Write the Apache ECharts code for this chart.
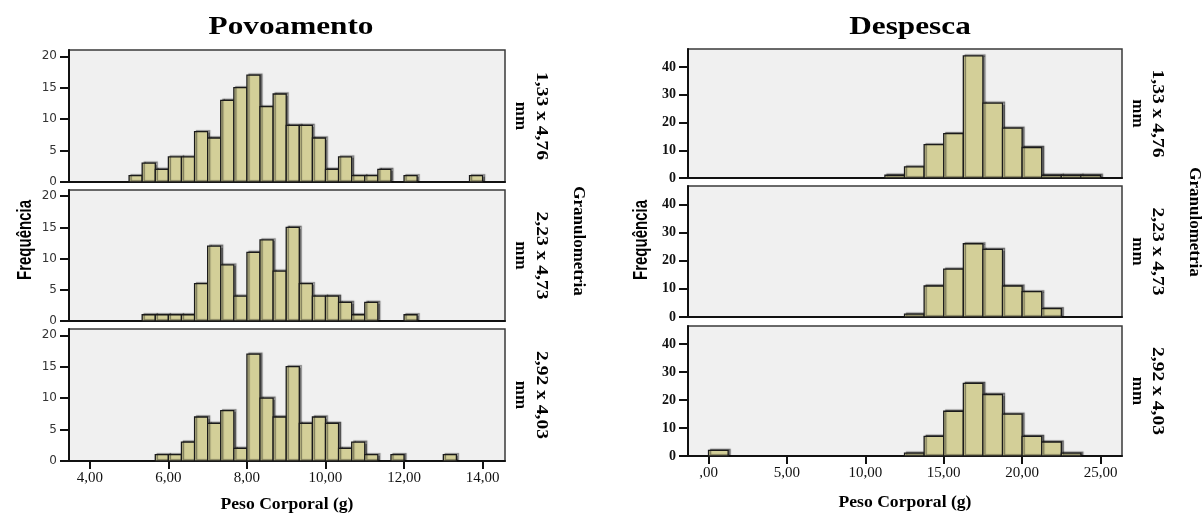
<!DOCTYPE html>
<html>
<head>
<meta charset="utf-8">
<script src="https://cdn.jsdelivr.net/npm/echarts@6/dist/echarts.min.js"></script>
<style>html,body{margin:0;padding:0;background:#fff}#c{width:1203px;height:516px}</style>
</head>
<body>
<div id="c"></div>
<script>
// ---- data ----
const leftTitle = 'Povoamento';
const rightTitle = 'Despesca';
const panelLabels = ['1,33 x 4,76', '2,23 x 4,73', '2,92 x 4,03'];
const unitLabel = 'mm';
const facetTitle = 'Granulometria';
const yName = 'Frequência';
const xName = 'Peso Corporal (g)';

// bin edges (g)
const leftBinEdges = [5.00, 5.333, 5.667, 6.00, 6.333, 6.667, 7.00, 7.333, 7.667, 8.00, 8.333, 8.667, 9.00, 9.333, 9.667, 10.00, 10.333, 10.667, 11.00, 11.333, 11.667, 12.00, 12.333, 12.667, 13.00, 13.333, 13.667, 14.00];
const leftCounts1 = [1,3,2,4,4,8,7,13,15,17,12,14,9,9,7,2,4,1,1,2,0,1,0,0,0,0,1];
const leftCounts2 = [0,1,1,1,1,6,12,9,4,11,13,8,15,6,4,4,3,1,3,0,0,1,0,0,0,0,0];
const leftCounts3 = [0,0,1,1,3,7,6,8,2,17,10,7,15,6,7,6,2,3,1,0,1,0,0,0,1,0,0];

const rightBinEdges = [0, 1.25, 2.5, 3.75, 5, 6.25, 7.5, 8.75, 10, 11.25, 12.5, 13.75, 15, 16.25, 17.5, 18.75, 20, 21.25, 22.5, 23.75, 25];
const rightCounts1 = [0,0,0,0,0,0,0,0,0,1,4,12,16,44,27,18,11,1,1,1];
const rightCounts2 = [0,0,0,0,0,0,0,0,0,0,1,11,17,26,24,11,9,3,0,0];
const rightCounts3 = [2,0,0,0,0,0,0,0,0,0,1,7,16,26,22,15,7,5,1,0];

const leftXTicks = [4, 6, 8, 10, 12, 14];
const rightXTicks = [0, 5, 10, 15, 20, 25];
const leftYTicks = [0, 5, 10, 15, 20];
const rightYTicks = [0, 10, 20, 30, 40];

// ---- build ----
function toBins(edges, counts) {
  const out = [];
  counts.forEach((c, i) => { if (c > 0) out.push([edges[i], edges[i + 1], c]); });
  return out;
}
function fmt(v) {
  const s = v.toFixed(2).replace('.', ',');
  return s.startsWith('0,') ? s.slice(1) : s;
}
const barFill = '#d3cf98';
function renderBar(params, api) {
  const p0 = api.coord([api.value(0), api.value(2)]);
  const p1 = api.coord([api.value(1), 0]);
  return {
    type: 'rect',
    shape: { x: p0[0], y: p0[1], width: p1[0] - p0[0], height: p1[1] - p0[1] },
    style: {
      fill: barFill, stroke: '#1a1a1a', lineWidth: 1.3,
      shadowColor: 'rgba(0,0,0,0.45)', shadowOffsetX: 2, shadowOffsetY: -1, shadowBlur: 1
    }
  };
}

const L = { left: 69, width: 436 };
const R = { left: 688, width: 434 };
const grids = [
  { left: L.left, width: L.width, top: 50, height: 132 },
  { left: L.left, width: L.width, top: 190, height: 131 },
  { left: L.left, width: L.width, top: 329, height: 132 },
  { left: R.left, width: R.width, top: 49, height: 129 },
  { left: R.left, width: R.width, top: 186, height: 131 },
  { left: R.left, width: R.width, top: 326, height: 130 }
].map(g => Object.assign({ show: true, backgroundColor: '#f0f0f0', borderColor: '#3a3a3a', borderWidth: 1.5 }, g));

const xAxes = [];
const yAxes = [];
for (let i = 0; i < 6; i++) {
  const isLeft = i < 3;
  const isBottom = (i % 3) === 2;
  const ticks = isLeft ? leftXTicks : rightXTicks;
  xAxes.push({
    type: 'value', gridIndex: i,
    min: isLeft ? 3.47 : -1.31, max: isLeft ? 14.57 : 26.37,
    splitLine: { show: false },
    axisLine: { show: true, onZero: false, lineStyle: { color: '#111', width: 2 } },
    axisTick: { show: isBottom, customValues: ticks, length: 8, lineStyle: { color: '#111', width: 2 } },
    axisLabel: {
      show: isBottom, customValues: ticks, formatter: fmt, margin: 10,
      fontFamily: 'Liberation Serif', fontSize: 15, color: '#111'
    }
  });
  yAxes.push({
    type: 'value', gridIndex: i,
    min: 0, max: isLeft ? 21 : 46.5, interval: isLeft ? 5 : 10,
    splitLine: { show: false },
    axisLine: { show: true, onZero: false, lineStyle: { color: '#111', width: 2 } },
    axisTick: { show: true, length: 9, customValues: isLeft ? leftYTicks : rightYTicks, lineStyle: { color: '#111', width: 2 } },
    axisLabel: isLeft
      ? { customValues: leftYTicks, margin: 12, fontFamily: 'DejaVu Sans', fontSize: 12, color: '#333' }
      : { customValues: rightYTicks, margin: 12, fontFamily: 'Liberation Serif', fontWeight: 'bold', fontSize: 14, color: '#111' }
  });
}

const allCounts = [leftCounts1, leftCounts2, leftCounts3, rightCounts1, rightCounts2, rightCounts3];
const series = allCounts.map((c, i) => ({
  type: 'custom', xAxisIndex: i, yAxisIndex: i,
  renderItem: renderBar,
  encode: { x: [0, 1], y: 2 },
  data: toBins(i < 3 ? leftBinEdges : rightBinEdges, c),
  silent: true
}));

function txt(x, y, text, font, opts) {
  return Object.assign({
    type: 'text', x: x, y: y,
    style: { text: text, font: font, fill: '#000', align: 'center', verticalAlign: 'middle' }
  }, opts || {});
}
const ROT_CW = -Math.PI / 2;
const ROT_CCW = Math.PI / 2;
const graphic = [
  txt(291, 28, leftTitle, 'bold 25px "Liberation Serif"', { scaleX: 1.25 }),
  txt(910, 28, rightTitle, 'bold 25px "Liberation Serif"', { scaleX: 1.25 }),
  txt(25, 240, yName, 'bold 15px "Liberation Sans"', { rotation: ROT_CCW, scaleY: 1.4 }),
  txt(641, 240, yName, 'bold 15px "Liberation Sans"', { rotation: ROT_CCW, scaleY: 1.4 }),
  txt(287, 505, xName, 'bold 16px "Liberation Serif"', { scaleX: 1.1 }),
  txt(905, 503, xName, 'bold 16px "Liberation Serif"', { scaleX: 1.1 }),
  txt(578, 241, facetTitle, 'bold 17px "Liberation Serif"', { rotation: ROT_CW }),
  txt(1194, 222, facetTitle, 'bold 17px "Liberation Serif"', { rotation: ROT_CW })
];
const leftCenters = [116, 255.5, 395];
const rightCenters = [113.5, 251.5, 391];
panelLabels.forEach((lab, i) => {
  graphic.push(txt(541, leftCenters[i], lab, 'bold 17px "Liberation Serif"', { rotation: ROT_CW, scaleX: 1.15 }));
  graphic.push(txt(520, leftCenters[i], unitLabel, 'bold 17px "Liberation Serif"', { rotation: ROT_CW }));
  graphic.push(txt(1157, rightCenters[i], lab, 'bold 17px "Liberation Serif"', { rotation: ROT_CW, scaleX: 1.15 }));
  graphic.push(txt(1137, rightCenters[i], unitLabel, 'bold 17px "Liberation Serif"', { rotation: ROT_CW }));
});

const chart = echarts.init(document.getElementById('c'), null, { renderer: 'canvas' });
chart.setOption({
  animation: false,
  backgroundColor: '#fff',
  grid: grids,
  xAxis: xAxes,
  yAxis: yAxes,
  series: series,
  graphic: graphic
});
</script>
</body>
</html>
